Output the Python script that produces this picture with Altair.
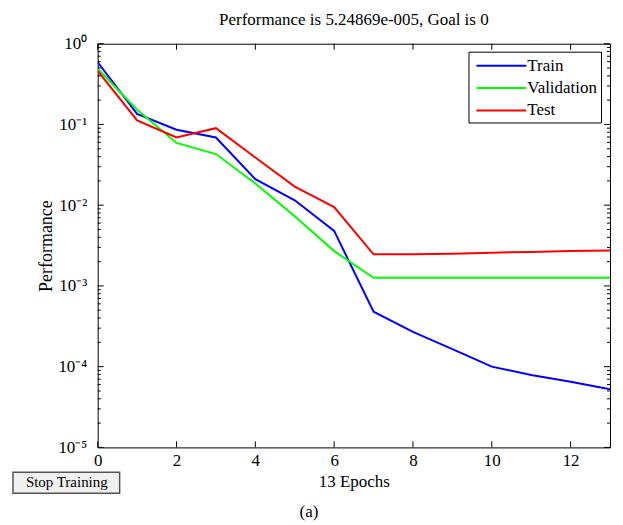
import altair as alt
import pandas as pd

epochs = list(range(14))
train = [0.59, 0.135, 0.086, 0.069, 0.021, 0.0115, 0.0048, 4.8e-4, 2.7e-4, 1.65e-4, 1.0e-4, 7.9e-5, 6.5e-5, 5.25e-5]
validation = [0.49, 0.152, 0.059, 0.043, 0.0186, 0.0073, 0.0027, 1.26e-3, 1.26e-3, 1.26e-3, 1.26e-3, 1.26e-3, 1.26e-3, 1.26e-3]
test = [0.46, 0.112, 0.069, 0.090, 0.039, 0.017, 0.0095, 2.46e-3, 2.46e-3, 2.5e-3, 2.58e-3, 2.64e-3, 2.7e-3, 2.75e-3]

series = ["Train", "Validation", "Test"]
colors = ["#0000ff", "#00ff00", "#ff0000"]

major_y = [1e0, 1e-1, 1e-2, 1e-3, 1e-4, 1e-5]
minor_y = [k * 10.0 ** d for d in range(-5, 0) for k in range(2, 10)]
x_ticks = [0, 2, 4, 6, 8, 10, 12]

sup = {"0": "\u2070", "1": "\u00b9", "2": "\u00b2", "3": "\u00b3", "4": "\u2074", "5": "\u2075", "-": "\u207b"}
def sup_label(e):
    return "10" + "".join(sup[c] for c in str(e))

label_expr = ""
for e in range(-5, 1):
    label_expr += f"abs(log(datum.value)/log(10) - ({e})) < 0.01 ? '{sup_label(e)}' : "
label_expr += "''"

rows = []
for name, vals in zip(series, [train, validation, test]):
    for ep, v in zip(epochs, vals):
        rows.append({"epoch": ep, "perf": v, "series": name})
df = pd.DataFrame(rows)

W, H = 514, 405
FONT = "Liberation Serif"

xscale = alt.Scale(domain=[0, 13], nice=False)
yscale = alt.Scale(type="log", domain=[1e-5, 1], nice=False)

xaxis = alt.Axis(orient="bottom", values=x_ticks, tickSize=0, domain=False,
                 labelPadding=5, labelFontSize=17, labelFont=FONT, labelColor="black",
                 title="13 Epochs", titleFontSize=17, titleFont=FONT,
                 titleFontWeight="normal", titleColor="black", titlePadding=5,
                 grid=False, labelFlush=False)
yaxis = alt.Axis(orient="left", values=major_y, tickSize=0, domain=False,
                 labelExpr=label_expr, labelPadding=11, labelFontSize=17,
                 labelFont=FONT, labelColor="black",
                 title="Performance", titleFontSize=18, titleFont=FONT,
                 titleFontWeight="normal", titleColor="black", titlePadding=2,
                 grid=False, labelFlush=False)

lines = alt.Chart(df).mark_line(strokeWidth=2, clip=True).encode(
    x=alt.X("epoch:Q", scale=xscale, axis=xaxis),
    y=alt.Y("perf:Q", scale=yscale, axis=yaxis),
    color=alt.Color("series:N", scale=alt.Scale(domain=series, range=colors),
                    legend=alt.Legend(orient="none", legendX=372, legendY=8, title=None,
                                      labelFont=FONT, labelFontSize=17, labelColor="black",
                                      symbolType="M-2.78,0L2.78,0", symbolSize=324,
                                      symbolStrokeWidth=2, symbolOffset=19, labelOffset=16,
                                      strokeColor="black", fillColor="white", padding=4,
                                      rowPadding=4.5)),
)

ydf_major = pd.DataFrame({"v": major_y})
ydf_minor = pd.DataFrame({"v": minor_y})
xdf = pd.DataFrame({"e": x_ticks})

def ytick(data, x1, x2):
    return alt.Chart(data).mark_rule(color="black", strokeWidth=1).encode(
        y=alt.Y("v:Q", scale=yscale, axis=yaxis), x=alt.value(x1), x2=alt.value(x2))

def xtick(y1, y2):
    return alt.Chart(xdf).mark_rule(color="black", strokeWidth=1).encode(
        x=alt.X("e:Q", scale=xscale, axis=xaxis), y=alt.value(y1), y2=alt.value(y2))

ticks = [
    ytick(ydf_major, 0, 6), ytick(ydf_major, W, W - 6),
    ytick(ydf_minor, 0, 3), ytick(ydf_minor, W, W - 3),
    xtick(H, H - 6), xtick(0, 6),
]

one = alt.Data(values=[{"a": 1}])
button = alt.Chart(one).mark_rect(fill="#f0f0f0", stroke="#555555", strokeWidth=1.5).encode(
    x=alt.value(-85), x2=alt.value(22), y=alt.value(430), y2=alt.value(451)
)
button_text = alt.Chart(one).mark_text(font=FONT, fontSize=15, color="black").encode(
    x=alt.value(-31), y=alt.value(440), text=alt.value("Stop Training")
)
caption = alt.Chart(one).mark_text(font=FONT, fontSize=17, color="black").encode(
    x=alt.value(212), y=alt.value(470), text=alt.value("(a)")
)

chart = alt.layer(lines, *ticks, button, button_text, caption).properties(
    width=W, height=H,
    title=alt.Title("Performance is 5.24869e-005, Goal is 0", font=FONT, fontSize=17,
                    fontWeight="normal", color="black", offset=6),
    autosize=alt.AutoSizeParams(type="none"),
    padding={"left": 90, "top": 35, "right": 5, "bottom": 75},
).configure_view(stroke="black", strokeWidth=1)

chart.save("out.html", embed_options={"renderer": "svg", "actions": False})
